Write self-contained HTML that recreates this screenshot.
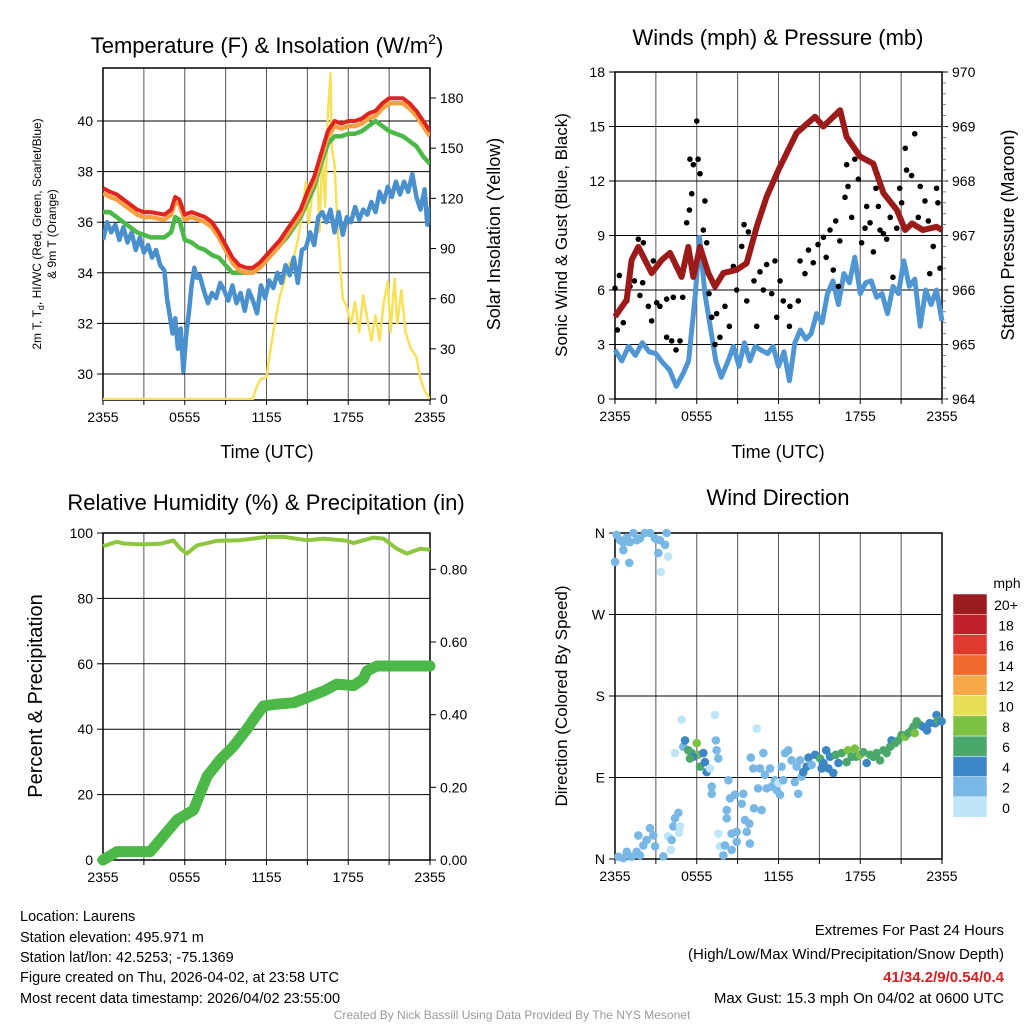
<!DOCTYPE html>
<html><head><meta charset="utf-8"><style>
html,body{margin:0;padding:0;background:#fff;}
svg{display:block;font-family:"Liberation Sans",Arial,sans-serif;}
</style></head><body>
<svg id="fig" width="1024" height="1024" viewBox="0 0 1024 1024" xmlns="http://www.w3.org/2000/svg">
<rect x="0" y="0" width="1024" height="1024" fill="#fff"/>
<text x="267" y="53" font-size="22" text-anchor="middle">Temperature (F) &amp; Insolation (W/m<tspan dy="-9" font-size="14">2</tspan><tspan dy="9">)</tspan></text>
<text x="778" y="45" font-size="22" text-anchor="middle">Winds (mph) &amp; Pressure (mb)</text>
<text x="266" y="510" font-size="22" text-anchor="middle">Relative Humidity (%) &amp; Precipitation (in)</text>
<text x="778" y="505" font-size="22" text-anchor="middle">Wind Direction</text>
<text x="267" y="458" font-size="18" text-anchor="middle">Time (UTC)</text>
<text x="778" y="458" font-size="18" text-anchor="middle">Time (UTC)</text>
<text transform="translate(41,234) rotate(-90)" font-size="12" text-anchor="middle">2m T, T<tspan dy="3" font-size="9">d</tspan><tspan dy="-3">, HI/WC (Red, Green, Scarlet/Blue)</tspan></text>
<text transform="translate(56,234) rotate(-90)" font-size="12" text-anchor="middle">&amp; 9m T (Orange)</text>
<text transform="translate(500,234) rotate(-90)" font-size="18" text-anchor="middle">Solar Insolation (Yellow)</text>
<text transform="translate(567,235) rotate(-90)" font-size="17" text-anchor="middle">Sonic Wind &amp; Gust (Blue, Black)</text>
<text transform="translate(1014,235) rotate(-90)" font-size="18" text-anchor="middle">Station Pressure (Maroon)</text>
<text transform="translate(42,696) rotate(-90)" font-size="20" text-anchor="middle">Percent &amp; Precipitation</text>
<text transform="translate(567,696) rotate(-90)" font-size="17" text-anchor="middle">Direction (Colored By Speed)</text>
<g font-size="14.5">
<text x="20" y="921">Location: Laurens</text>
<text x="20" y="942">Station elevation: 495.971 m</text>
<text x="20" y="962">Station lat/lon: 42.5253; -75.1369</text>
<text x="20" y="982">Figure created on Thu, 2026-04-02, at 23:58 UTC</text>
<text x="20" y="1003">Most recent data timestamp: 2026/04/02 23:55:00</text>
</g>
<g font-size="15" text-anchor="end">
<text x="1004" y="935">Extremes For Past 24 Hours</text>
<text x="1004" y="959">(High/Low/Max Wind/Precipitation/Snow Depth)</text>
<text x="1004" y="982" fill="#d42020" font-weight="bold">41/34.2/9/0.54/0.4</text>
<text x="1004" y="1003">Max Gust: 15.3 mph On 04/02 at 0600 UTC</text>
</g>
<text x="512" y="1019" font-size="12" fill="#999" text-anchor="middle">Created By Nick Bassill Using Data Provided By The NYS Mesonet</text>
<text x="1007" y="588" font-size="14" text-anchor="middle">mph</text>
</svg>
<script>
// ---------- DATA ----------
const timeTickLabels = ["2355","0555","1155","1755","2355"];
const tempTickValues = [30,32,34,36,38,40];
const solarTickValues = [0,30,60,90,120,150,180];
const windTickValues = [0,3,6,9,12,15,18];
const pressureTickValues = [964,965,966,967,968,969,970];
const rhTickValues = [0,20,40,60,80,100];
const precipTickValues = [0,0.2,0.4,0.6,0.8];
const precipTickLabels = ["0.00","0.20","0.40","0.60","0.80"];
const dirTickValues = [0,90,180,270,360];
const dirTickLabels = ["N","E","S","W","N"];

const tempHours = [0,0.5,1,1.5,2,2.5,3,3.5,4,4.5,5,5.3,5.6,6,6.5,7,7.5,8,8.5,9,9.5,10,10.5,11,11.5,12,12.5,13,13.5,14,14.5,15,15.5,16,16.5,17,17.5,18,18.5,19,19.5,20,20.5,21,21.5,22,22.5,23,23.5,24];
const tempRed = [37.35,37.2,37.1,36.9,36.7,36.5,36.4,36.4,36.35,36.3,36.5,37.0,36.9,36.3,36.4,36.3,36.2,36.0,35.6,35.1,34.6,34.3,34.2,34.2,34.4,34.7,35.0,35.3,35.7,36.1,36.5,37.2,37.8,38.7,39.6,40.0,39.9,40.0,40.0,40.1,40.3,40.4,40.7,40.9,40.9,40.9,40.7,40.4,40.0,39.6];
const tempOrange = [37.15,37.0,36.9,36.7,36.5,36.3,36.2,36.2,36.15,36.1,36.3,36.8,36.7,36.1,36.2,36.1,36.0,35.8,35.4,34.9,34.4,34.1,34.0,34.0,34.2,34.5,34.8,35.1,35.5,35.9,36.3,37.0,37.6,38.5,39.4,39.8,39.7,39.8,39.8,39.9,40.1,40.2,40.5,40.7,40.7,40.7,40.5,40.2,39.8,39.4];
const tempGreen = [36.4,36.4,36.2,36.0,35.8,35.6,35.5,35.4,35.4,35.4,35.6,36.2,36.1,35.3,35.2,35.0,34.9,34.7,34.6,34.3,34.0,34.0,34.0,34.1,34.2,34.5,34.8,35.1,35.4,35.8,36.2,36.8,37.4,38.3,39.1,39.4,39.4,39.5,39.5,39.6,39.8,40.0,39.8,39.6,39.5,39.4,39.2,39.0,38.6,38.3];
const dewHours = [0,0.3,0.6,0.9,1.2,1.5,1.8,2.1,2.4,2.7,3.0,3.3,3.6,3.9,4.2,4.5,4.7,4.9,5.1,5.3,5.5,5.7,5.9,6.1,6.3,6.5,6.7,6.9,7.1,7.4,7.7,8.0,8.3,8.6,8.9,9.2,9.5,9.8,10.1,10.4,10.7,11.0,11.3,11.6,11.9,12.2,12.5,12.8,13.1,13.4,13.7,14.0,14.3,14.6,14.9,15.2,15.5,15.8,16.1,16.4,16.7,17.0,17.3,17.6,17.9,18.2,18.5,18.8,19.1,19.4,19.7,20.0,20.3,20.6,20.9,21.2,21.5,21.8,22.1,22.4,22.7,23.0,23.3,23.6,23.8,24];
const dewValues = [35.3,36.0,35.6,35.9,35.3,35.8,35.2,35.6,34.9,35.4,34.8,35.1,34.6,34.9,34.3,34.1,33.0,32.3,31.6,32.2,31.0,31.8,30.1,31.5,32.4,33.5,34.2,33.8,33.9,33.3,32.8,33.2,33.0,33.6,33.3,32.9,33.5,32.8,33.2,32.5,33.3,32.9,32.4,33.5,33.0,33.7,33.4,34.0,33.6,34.3,33.9,34.6,33.6,34.9,35.0,35.6,35.1,36.2,36.4,36.0,36.5,35.6,36.4,35.5,36.2,36.0,36.6,36.1,36.5,36.3,36.8,36.4,37.2,36.8,37.4,37.0,37.6,37.1,37.6,37.2,37.9,37.0,36.5,37.3,35.9,36.6];
const solarHours = [0,11,11.3,11.6,12.0,12.3,12.6,13.0,13.3,13.6,14.0,14.3,14.6,14.9,15.1,15.4,15.7,15.9,16.1,16.3,16.5,16.7,16.8,17.0,17.2,17.4,17.6,17.9,18.2,18.5,18.8,19.1,19.4,19.7,20.0,20.3,20.6,20.9,21.1,21.4,21.6,21.9,22.2,22.6,23.0,23.3,23.6,24];
const solarValues = [0,0,8,12,13,30,45,62,70,80,85,95,110,130,105,125,140,100,150,115,170,195,150,140,105,80,60,55,45,58,40,62,48,35,50,35,58,70,40,72,45,65,40,30,25,12,5,0];

const pressHours = [0,0.86,1.22,1.71,2.69,3.43,4.04,4.89,5.38,5.75,6.24,6.85,7.34,7.95,8.93,9.66,10.4,11.13,11.99,13.33,14.68,15.29,16.52,17.0,17.98,18.96,19.7,20.68,21.3,21.8,22.6,23.6,24];
const pressValues = [965.51,965.82,966.55,966.79,966.31,966.55,966.68,966.24,966.79,966.24,966.79,966.31,966.06,966.31,966.37,966.49,967.16,967.71,968.2,968.88,969.18,969.0,969.3,968.81,968.45,968.32,967.78,967.47,967.1,967.22,967.1,967.16,967.1];
const windHours = [0,0.5,1,1.5,2,2.5,3,3.5,4,4.5,5,5.4,5.9,6.2,6.6,7.1,7.4,7.8,8.3,8.7,9.1,9.5,9.9,10.3,10.7,11.2,11.6,12.0,12.4,12.8,13.2,13.6,14.0,14.4,14.8,15.2,15.6,16.0,16.4,16.8,17.2,17.6,18.0,18.4,18.8,19.2,19.6,20.0,20.4,20.8,21.2,21.6,22.0,22.4,22.8,23.2,23.6,24];
const windValues = [2.7,2.1,2.9,2.4,3.1,2.6,2.5,2.0,1.6,0.7,1.4,2.1,5.8,8.9,5.8,3.5,2.1,1.2,2.1,2.9,1.8,3.1,2.1,2.9,2.7,2.5,2.9,1.8,2.6,1.0,3.1,3.8,3.3,3.6,4.7,4.2,5.8,6.5,5.2,6.9,6.4,7.8,5.8,6.4,6.5,5.6,5.8,4.7,6.2,5.8,7.6,6.2,6.6,4.0,6.0,5.2,6.0,4.3];
const gustHours = [0,0.17,0.32,0.61,0.86,1.1,1.42,1.71,2.08,1.83,2.03,2.45,2.69,2.81,3.06,3.3,3.79,4.28,3.79,4.16,4.48,4.77,4.97,5.26,5.46,5.63,5.5,5.75,6.0,6.1,6.24,6.6,6.48,6.73,6.9,7.1,7.34,7.46,7.7,8.07,8.39,8.69,8.93,9.3,9.47,9.79,9.67,10.2,10.4,10.64,10.89,11.13,11.5,11.74,11.87,12.11,12.35,12.84,12.8,13.45,13.58,13.94,14.2,14.55,14.9,15.3,15.5,15.78,16.02,16.2,16.4,16.5,16.88,17.0,17.1,17.37,17.6,17.86,18.1,18.35,18.47,18.72,18.96,19.15,19.33,19.45,19.7,19.94,20.2,20.4,20.68,20.9,21.04,21.3,21.4,21.77,22.0,22.26,22.4,22.75,23.0,23.1,23.36,23.6,23.7,23.85];
const gustValues = [6.1,3.8,6.8,4.2,5.4,6.2,6.5,8.8,8.6,5.7,6.4,5.1,4.3,7.6,5.3,5.1,5.5,5.6,3.4,3.2,2.7,3.2,5.6,9.7,10.4,11.3,13.2,12.9,15.3,13.2,12.4,10.9,9.3,8.6,5.8,4.5,3.0,4.7,3.4,5.1,4.0,7.3,6.0,8.4,9.6,9.2,5.4,6.5,4.0,7.0,6.0,7.4,5.8,7.6,4.5,6.5,5.4,5.1,4.0,5.4,7.6,6.9,8.2,7.5,8.5,8.9,7.8,9.3,7.1,9.8,6.2,8.7,11.1,12.9,11.7,10.0,13.2,12.1,8.6,9.4,10.6,9.7,8.1,11.6,10.6,9.3,9.1,8.8,10.0,6.7,9.4,11.6,10.8,13.8,12.6,12.3,14.6,10.0,11.7,10.9,9.8,6.9,8.4,11.6,10.8,7.2];

const rhHours = [0,1.03,1.52,2.74,4.2,5.18,5.67,6.16,6.89,8.36,10.07,12.03,13.25,14.96,16.18,17.9,18.39,19.85,20.58,21.56,22.3,23.28,24];
const rhValues = [96,97.3,96.8,96.5,96.7,97.7,95.2,93.7,96.2,97.6,97.8,98.8,98.8,97.8,98.3,97.6,96.9,98.6,98.3,95.2,93.7,95.2,94.9];
const precipHours = [0,1.03,3.47,3.96,5.43,6.65,7.63,8.6,9.58,10.56,11.05,11.78,12.76,14.0,14.72,16.2,17.16,18.4,19.1,19.36,20.1,24];
const precipValues = [0,0.023,0.023,0.045,0.11,0.138,0.23,0.276,0.313,0.36,0.387,0.424,0.429,0.433,0.443,0.465,0.484,0.48,0.498,0.52,0.534,0.534];

const dirHours = [0.12,0.37,0.61,0.86,1.1,1.35,1.6,0.61,0.0,1.05,2.2,2.57,2.94,3.3,3.67,3.79,3.18,3.9,3.35,1.83,
0.25,0.61,0.86,1.22,1.59,1.83,1.71,2.08,2.32,2.57,2.81,2.94,3.55,3.9,4.16,4.1,4.28,4.4,4.65,4.77,4.7,
4.4,4.89,5.01,5.14,5.38,5.63,6.0,6.1,5.75,5.5,6.24,6.48,6.73,6.6,6.97,7.34,7.4,7.46,7.58,7.1,7.1,7.58,7.7,7.95,8.07,8.2,8.2,8.32,8.44,8.56,8.56,8.8,8.93,8.93,9.3,9.42,9.54,9.86,9.9,9.67,9.97,10.15,10.2,10.4,10.5,10.64,10.76,10.89,11.0,11.13,11.38,11.5,11.74,11.87,11.99,12.11,12.23,12.35,12.48,12.72,12.96,13.2,13.33,13.45,13.58,13.7,13.82,14.07,14.2,14.43,14.68,15.05,15.17,15.3,15.5,15.66,15.78,16.02,16.2,16.4,16.64,17.0,17.1,17.37,17.6,17.7,17.98,18.23,18.47,18.72,18.96,19.2,19.45,19.7,19.94,20.2,20.3,20.55,20.8,21.04,21.3,21.53,21.77,21.9,22.14,22.0,22.4,22.63,22.9,23.1,23.5,23.6,23.72,23.97];
const dirDegrees = [358,352,349,355,350,360,352,341,328,327,360,360,354,352,347,360,338,334,317,354,
2.5,1,8,2.5,8,4,26,15,21,34,26,14,3,25,21,10,36,45,51,36,29,
117,154,124,131,120,117,128,115,113,111,102,117,96,107,100,159,131,120,111,80,72,28,14,4,15,54,45,87,67,28,10,71,30,19,61,72,43,39,17,30,112,100,56,144,78,100,54,117,93,78,100,80,87,76,84,71,102,87,117,120,109,85,102,72,109,91,96,102,112,104,115,111,100,106,120,100,113,95,115,106,117,107,120,113,122,113,115,118,106,115,113,117,109,120,117,124,131,128,131,137,135,139,142,146,152,139,148,146,142,150,150,159,153,152];
const dirSpeeds = [3,3,3,3,3,3,3,3,3.5,3.5,3,3,3,3,3,3,3,1,1,3,
3,3,3,3,3,3,3,3,3,3,3,3,3,1,3,1,3,3,3,1,1,
1,1,3,4.5,6,6,8,8,4.5,6,6,4.5,4.5,4.5,1,1,3,3,3,3,3,1,1,3,3,3,3,3,3,3,3,3,3,3,3,3,3,3,3,3,3,3,3,1,3,3,3,3,3,3,3,3,3,3,1,3,3,3,3,3,3,3,3,3,3,3,4.5,4.5,4.5,3,4.5,6,4.5,4.5,4.5,4.5,4.5,4.5,6,4.5,6,6,8,6,8,6,8,6,4.5,6,6,6,6,6,6,6,4.5,6,6,6,8,6,6,6,6,8,6,4.5,4.5,4.5,4.5,4.5,6,4.5];

const cbLabels = ["20+","18","16","14","12","10","8","6","4","2","0"];
const cbColors = ["#9b1c1f","#c0202a","#de3a2f","#ef6a2e","#f7a94a","#e6df55","#7dc143","#4aa86a","#3d86c6","#79b7e5","#bfe5f8"];

// ---------- HELPERS ----------
const NS = "http://www.w3.org/2000/svg";
const svg = document.getElementById("fig");
function mk(tag, attrs, parent){
  const e = document.createElementNS(NS, tag);
  for (const k in attrs) e.setAttribute(k, attrs[k]);
  (parent || svg).appendChild(e);
  return e;
}
function lin(d0,d1,r0,r1){ return v => r0 + (v-d0)*(r1-r0)/(d1-d0); }
function pathFrom(xs, ys, fx, fy){
  let d = "";
  for (let i=0;i<xs.length;i++) d += (i?"L":"M") + fx(xs[i]).toFixed(1) + "," + fy(ys[i]).toFixed(1);
  return d;
}
function speedColor(s){
  const idx = Math.min(10, Math.floor(s/2));
  return cbColors[10-idx];
}

function frame(name, x0, x1, y0, y1, fyL, leftTicks, leftLabels, fyR, rightTicks, rightLabels, gridVals){
  const g = mk("g", {});
  
  
  const fx = lin(0,24,x0,x1);
  for (let h=0; h<=24; h+=3){
    const gl = mk("line",{x1:fx(h),x2:fx(h),y1:y0,y2:y1,stroke:"#555","stroke-width":1}, g);
    
    
    mk("line",{x1:fx(h),x2:fx(h),y1:y1,y2:y1+5,stroke:"#000","stroke-width":1}, g);
  }
  gridVals.forEach(v=>{
    const gl = mk("line",{x1:x0,x2:x1,y1:fyL(v),y2:fyL(v),stroke:"#000","stroke-width":1}, g);
    
    
  });
  timeTickLabels.forEach((t,i)=>{
    const tx = mk("text",{x:fx(i*6),y:y1+22,"font-size":14,"text-anchor":"middle"}, g);
    tx.textContent = t;
    
    
  });
  leftTicks.forEach((v,i)=>{
    mk("line",{x1:x0-6,x2:x0,y1:fyL(v),y2:fyL(v),stroke:"#000"}, g);
    const tx = mk("text",{x:x0-10,y:fyL(v)+5,"font-size":14,"text-anchor":"end"}, g);
    tx.textContent = leftLabels[i];
    
    
  });
  if (fyR){
    rightTicks.forEach((v,i)=>{
      mk("line",{x1:x1,x2:x1+6,y1:fyR(v),y2:fyR(v),stroke:"#000"}, g);
      const tx = mk("text",{x:x1+10,y:fyR(v)+5,"font-size":14,"text-anchor":"start"}, g);
      tx.textContent = rightLabels[i];
      
      
    });
  }
  const b = mk("rect",{x:x0,y:y0,width:x1-x0,height:y1-y0,fill:"none",stroke:"#000","stroke-width":1.5}, g);
  
  
  return fx;
}

// ---------- PANEL 1: temperature ----------
const t_fy = lin(30,40,374,121);
const s_fy = lin(0,180,399,98);
const p1x = frame("temperature", 103,430,68,400, t_fy, tempTickValues, tempTickValues.map(String), s_fy, solarTickValues, solarTickValues.map(String), tempTickValues);
const p1 = mk("g",{"clip-path":"url(#c1)"});
mk("clipPath",{id:"c1"}); document.getElementById("c1").appendChild(document.createElementNS(NS,"rect"));
(function(){const r=document.getElementById("c1").firstChild; r.setAttribute("x",103);r.setAttribute("y",68);r.setAttribute("width",327);r.setAttribute("height",332);})();
let e;
e = mk("path",{d:pathFrom(solarHours,solarValues,p1x,s_fy),fill:"none",stroke:"#f7e15a","stroke-width":2.5,"stroke-linejoin":"round"},p1);


e = mk("path",{d:pathFrom(dewHours,dewValues,p1x,t_fy),fill:"none",stroke:"#4a90cd","stroke-width":4.5,"stroke-linejoin":"round"},p1);


e = mk("path",{d:pathFrom(tempHours,tempGreen,p1x,t_fy),fill:"none",stroke:"#4cb848","stroke-width":4.5,"stroke-linejoin":"round"},p1);


e = mk("path",{d:pathFrom(tempHours,tempOrange,p1x,t_fy),fill:"none",stroke:"#f5a042","stroke-width":4.5,"stroke-linejoin":"round"},p1);


e = mk("path",{d:pathFrom(tempHours,tempRed,p1x,t_fy),fill:"none",stroke:"#de2420","stroke-width":4,"stroke-linejoin":"round"},p1);



// ---------- PANEL 2: winds ----------
const w_fy = lin(0,18,399,72);
const pr_fy = lin(964,970,399,72);
const p2x = frame("winds", 615,942,72,399, w_fy, windTickValues, windTickValues.map(String), pr_fy, pressureTickValues, pressureTickValues.map(String), [3,6,9,12,15]);
for (let v=964; v<970; v+=0.2){
  mk("line",{x1:942,x2:946,y1:pr_fy(v),y2:pr_fy(v),stroke:"#666","stroke-width":0.8});
}
e = mk("path",{d:pathFrom(windHours,windValues,p2x,w_fy),fill:"none",stroke:"#4f96d3","stroke-width":5,"stroke-linejoin":"round"});


const gustG = mk("g",{});


gustHours.forEach((h,i)=>{
  const c = mk("circle",{cx:p2x(h),cy:w_fy(gustValues[i]),r:2.8,fill:"#000"},gustG);
  
  
});
e = mk("path",{d:pathFrom(pressHours,pressValues,p2x,pr_fy),fill:"none",stroke:"#9b1b1b","stroke-width":6,"stroke-linejoin":"round"});



// ---------- PANEL 3: humidity ----------
const rh_fy = lin(0,100,860,533);
const pc_fy = lin(0,0.9,860,533);
const p3x = frame("humidity", 103,430,533,860, rh_fy, rhTickValues, rhTickValues.map(String), pc_fy, precipTickValues, precipTickLabels, [20,40,60,80]);
e = mk("path",{d:pathFrom(rhHours,rhValues,p3x,rh_fy),fill:"none",stroke:"#8dc63f","stroke-width":4,"stroke-linejoin":"round"});


e = mk("path",{d:pathFrom(precipHours,precipValues,p3x,pc_fy),fill:"none",stroke:"#4cb848","stroke-width":11,"stroke-linejoin":"round","stroke-linecap":"round"});



// ---------- PANEL 4: wind direction ----------
const d_fy = lin(0,360,859,533);
const p4x = frame("direction", 615,942,533,859, d_fy, dirTickValues, dirTickLabels, null, [], [], [90,180,270]);
const dirG = mk("g",{});


dirHours.forEach((h,i)=>{
  const c = mk("circle",{cx:p4x(h),cy:d_fy(dirDegrees[i]),r:4.3,fill:speedColor(dirSpeeds[i])},dirG);
  
  
});

// ---------- COLORBAR ----------
const cbG = mk("g",{});


cbLabels.forEach((lab,i)=>{
  const y = 594 + i*20.3;
  const r = mk("rect",{x:953,y:y,width:34,height:20.3,fill:cbColors[i],stroke:"#fff","stroke-width":0.5},cbG);
  
  
  const t = mk("text",{x:1006,y:y+16,"font-size":14,"text-anchor":"middle"},cbG);
  t.textContent = lab;
  
  
});
</script>
</body></html>
